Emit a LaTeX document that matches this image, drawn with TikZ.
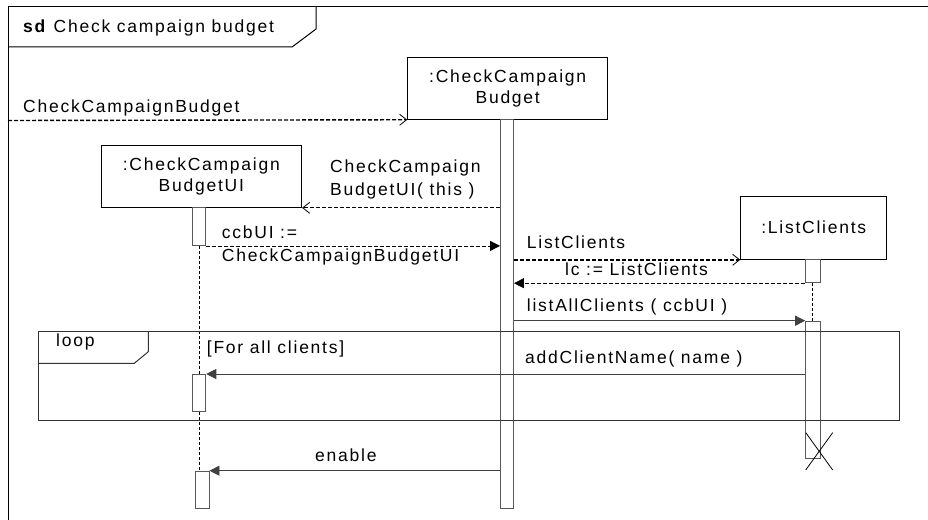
\documentclass[tikz,border=0pt]{standalone}
\usepackage{fontspec}
\setmainfont{Liberation Sans}[LetterSpace=10]
\usetikzlibrary{arrows.meta}

\begin{document}
\begin{tikzpicture}[
  x=1pt, y=-1pt,
  font=\fontsize{17.5}{21}\selectfont,
  frame/.style={draw=black, line width=1pt},
  obj/.style={rectangle, draw=black, line width=0.9pt, align=center, inner sep=0pt},
  act/.style={rectangle, draw=black!65, line width=0.9pt, fill=white, minimum width=13pt, inner sep=0pt, anchor=north},
  life/.style={draw=black, line width=0.8pt, dash pattern=on 3pt off 2pt},
  lbl/.style={anchor=base west, inner sep=0pt, align=left, font=\fontsize{17.5}{23}\selectfont},
  call/.style={draw=black!75, line width=0.9pt, -{Triangle[length=10pt,width=10pt]}},
  reply/.style={draw=black, line width=0.8pt, dash pattern=on 4pt off 2pt, -{Triangle[length=10pt,width=10pt]}},
  create/.style={draw=black, line width=1.4pt, dash pattern=on 4pt off 2pt, -{Straight Barb[length=7pt,width=11pt,line width=0.8pt]}},
]
  \useasboundingbox (0,0) rectangle (928,519);
  \clip (0,0) rectangle (928,519);

  % outer frame and its tab
  \draw[frame] (8,7) rectangle (945,535);
  \draw[frame] (8,47) -- (292,47) -- (316,29) -- (316,7);
  \node[lbl] (title) at (23,33) {\textbf{sd} Check campaign budget};

  % objects
  \node[obj, minimum width=200pt, minimum height=62pt] (ccb) at (507.7,88.3) {:CheckCampaign\\Budget};
  \node[obj, minimum width=200.7pt, minimum height=62.3pt] (ui) at (201.3,176.2) {:CheckCampaign\\BudgetUI};
  \node[obj, minimum width=146pt, minimum height=63.3pt] (lc) at (813.7,227.7) {:ListClients};

  % activations
  \node[act, minimum height=388.4pt] (ccbbar) at (507,119.3) {};
  \node[act, minimum height=37.7pt] (uibar1) at (199.3,207.3) {};
  \node[act, minimum height=37pt] (uibar2) at (199.3,374) {};
  \node[act, minimum width=14pt, minimum height=37pt] (uibar3) at (202,470.7) {};
  \node[act, minimum width=14.3pt, minimum height=23pt] (lcbar1) at (812.8,259.3) {};
  \node[act, minimum width=14.3pt, minimum height=137.3pt] (lcbar2) at (812.8,320.7) {};

  % lifelines
  \draw[life] (uibar1.south) -- (uibar2.north);
  \draw[life] (uibar2.south) -- (uibar2.south |- uibar3.north);
  \draw[life] (lcbar1.south) -- (lcbar2.north);

  % loop fragment
  \draw[frame, draw=black!80] (38.3,331.7) rectangle (899.3,420);
  \draw[frame, draw=black!80] (38.3,363.3) -- (134.3,363.3) -- (148.3,351.7) -- (148.3,331.7);
  \node[lbl] (looplbl) at (56,346.7) {loop};
  \node[lbl] (guard) at (206.7,353.3) {[For all clients]};

  % messages (two-line labels sit on the baseline of their last line)
  \coordinate (found) at (8,120.5);
  \draw[create] (found) -- (ccb.south west);
  \node[lbl] (m1) at (23,112) {CheckCampaignBudget};

  \draw[create, line width=0.8pt] (ccbbar.west |- ui.south east) -- (ui.south east);
  \node[lbl] (m2) at (330,195.3) {CheckCampaign\\BudgetUI( this )};

  \draw[reply] (uibar1.south east) -- (uibar1.south east -| ccbbar.west);
  \node[lbl] (m3) at (221.7,261.7) {ccbUI :=\\CheckCampaignBudgetUI};

  \draw[create] (ccbbar.east |- lc.south west) -- (lc.south west);
  \node[lbl] (m4) at (526.7,248.3) {ListClients};

  \draw[reply] (lcbar1.south west) -- (lcbar1.south west -| ccbbar.east);
  \node[lbl] (m5) at (565,275) {lc := ListClients};

  \draw[call] (ccbbar.east |- lcbar2.north west) -- (lcbar2.north west);
  \node[lbl] (m6) at (526.7,311.7) {listAllClients ( ccbUI )};

  \draw[call] (lcbar2.west |- uibar2.north east) -- (uibar2.north east);
  \node[lbl] (m7) at (525,363.3) {addClientName( name )};

  \draw[call] (ccbbar.west |- uibar3.north east) -- (uibar3.north east);
  \node[lbl] (m8) at (315,461.7) {enable};

  % destruction
  \coordinate (lcend) at (819.2,451.3);
  \draw[line width=0.8pt] (lcend) +(-13.5,-18.7) -- +(13.5,18.7);
  \draw[line width=0.8pt] (lcend) +(13.5,-18.7) -- +(-13.5,18.7);
\end{tikzpicture}
\end{document}
